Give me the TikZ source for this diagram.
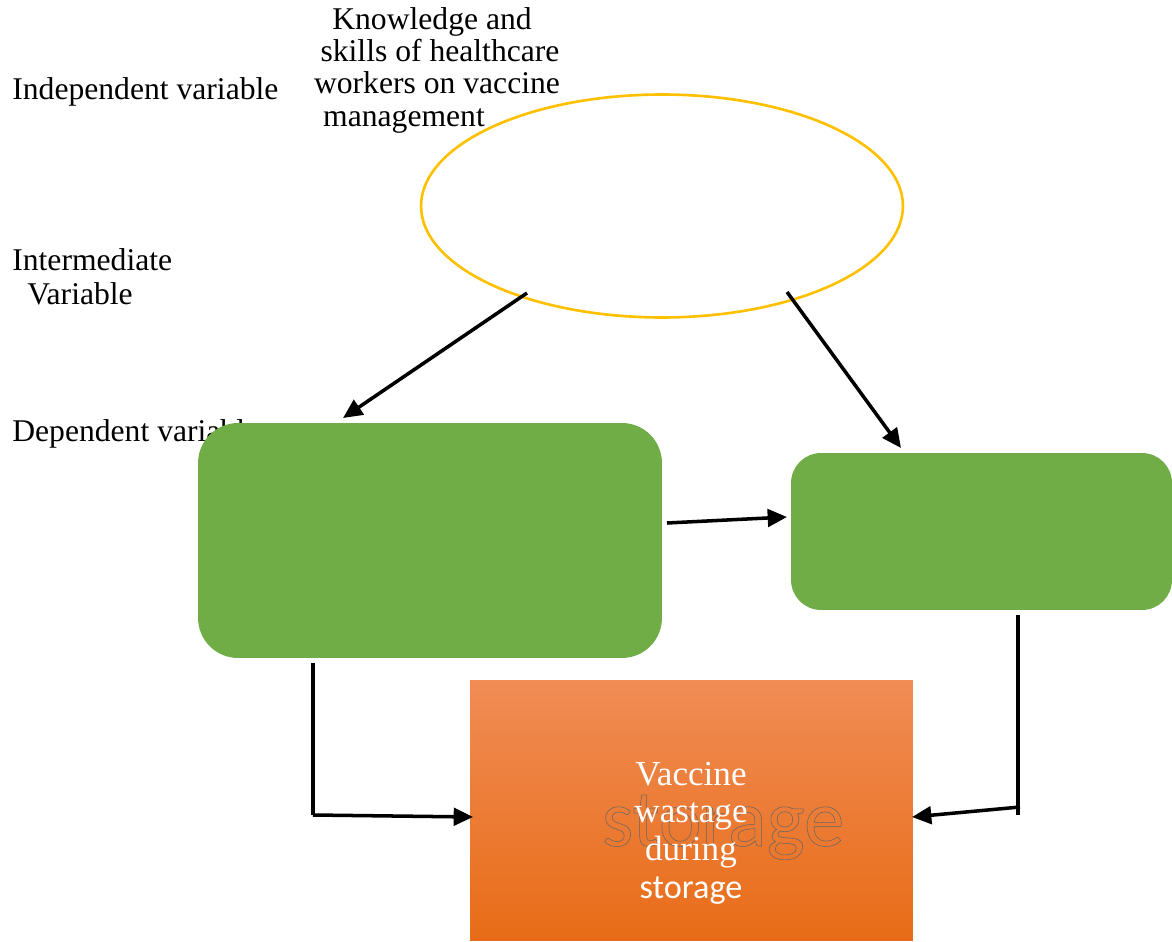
\documentclass[tikz,border=0pt]{standalone}
\usepackage{fontspec}
\setmainfont{Liberation Serif}
\newfontfamily\calib{Carlito}
\usetikzlibrary{shapes.geometric,arrows.meta}
\definecolor{gold}{HTML}{FFC000}
\definecolor{leaf}{HTML}{70AD47}
\definecolor{orangetop}{HTML}{F08C55}
\definecolor{orangebot}{HTML}{E86C17}
\begin{document}
\begin{tikzpicture}[x=0.02cm,y=-0.02cm,
  lbl/.style={font=\fontsize{18}{20}\selectfont, inner sep=0, anchor=base west},
  toplbl/.style={font=\fontsize{18}{20}\selectfont, inner sep=0, anchor=base},
  arr/.style={line width=2pt, -{Triangle[length=11pt,width=10pt]}},
  ln/.style={line width=2pt},
  greenbox/.style={rectangle, fill=leaf, inner sep=0}]
\useasboundingbox (0,0) rectangle (1172,942);

% left labels
\node[lbl] (indep) at (12,100) {Independent variable};
\node[lbl] (inter1) at (12,271) {Intermediate};
\node[lbl] (inter2) at (27,304) {Variable};
\node[lbl] (dep) at (12,441) {Dependent variable};

% top text
\node[toplbl] (k1) at (432,30) {Knowledge and};
\node[toplbl] (k2) at (440,62) {skills of healthcare};
\node[toplbl] (k3) at (437,94) {workers on vaccine};
\node[toplbl] (k4) at (404,127) {management};

% ellipse
\node[ellipse, draw=gold, line width=1.5pt, inner sep=0,
      minimum width=9.64cm, minimum height=4.46cm] (ell) at (662,206) {};

% green boxes
\node[greenbox, rounded corners=0.8cm, minimum width=9.28cm, minimum height=4.7cm] (g1) at (430,540.5) {};
\node[greenbox, rounded corners=0.6cm, minimum width=7.62cm, minimum height=3.14cm] (g2) at (981.5,531.5) {};

% orange box
\node[rectangle, inner sep=0, top color=orangetop, bottom color=orangebot,
      minimum width=8.86cm, minimum height=5.22cm] (out) at (691.5,810.5) {};
\node[inner sep=0, anchor=base, text=black!60] (ghost) at (723,846)
  {\calib\fontsize{46}{46}\selectfont\special{pdf:literal direct 1 Tr 0.3 w}storage\special{pdf:literal direct 0 Tr}};
\node[inner sep=0, text=white, align=center, font=\fontsize{20}{21.5}\selectfont] (outtxt) at (691,833)
  {Vaccine\\wastage\\during\\{\calib\fontsize{19.5}{21.5}\selectfont storage}};

% connectors
\coordinate (a1s) at (527,293); \coordinate (a1e) at (343,418);
\coordinate (a2s) at (787,292); \coordinate (a2e) at (901,448);
\coordinate (a3s) at (667,523); \coordinate (a3e) at (787,517);
\coordinate (b1) at (313,663); \coordinate (b1c) at (313,815); \coordinate (b1e) at (473,817);
\coordinate (b2) at (1018,615); \coordinate (b2c) at (1018,815);
\coordinate (b2a) at (1020,807); \coordinate (b2e) at (912,817);

\draw[arr] (a1s) -- (a1e);
\draw[arr] (a2s) -- (a2e);
\draw[arr] (a3s) -- (a3e);
\draw[ln] (b1) -- (b1c);
\draw[arr] (b1c) -- (b1e);
\draw[ln] (b2) -- (b2c);
\draw[arr] (b2a) -- (b2e);
\end{tikzpicture}
\end{document}
